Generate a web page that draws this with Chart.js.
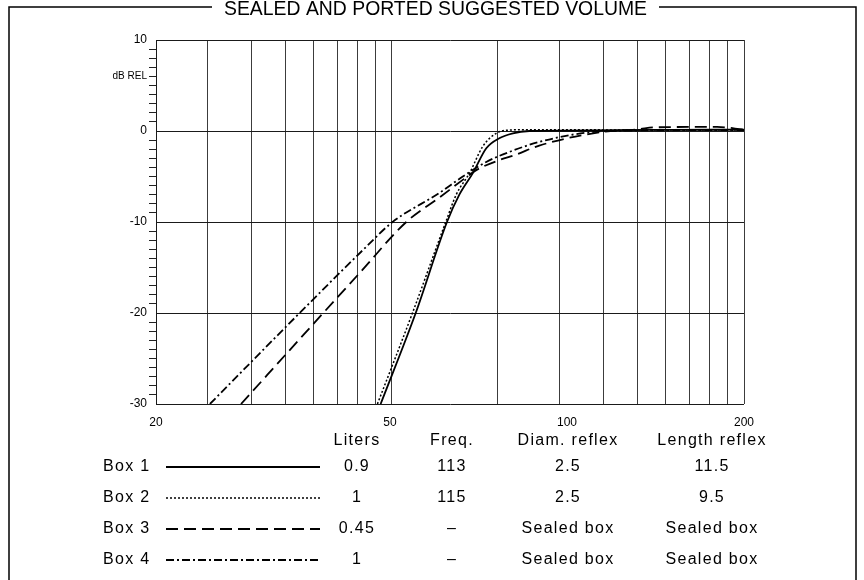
<!DOCTYPE html>
<html>
<head>
<meta charset="utf-8">
<script src="https://cdn.jsdelivr.net/npm/chart.js@4.4.1/dist/chart.umd.min.js"></script>
<style>
	html, body { margin: 0; padding: 0; background: #fff; }
	canvas { display: block; }
</style>
</head>
<body>
<canvas id="chart" width="864" height="580"></canvas>
<script>
// frequency axis labels (Hz) and dB range
const freqTicks = [20, 50, 100, 200];
const dbMin = -30;
const dbMax = 10;
// the printed grid follows its own log paper (3..10, 20..100 decade lines)
const gridTicks = [21.4, 30, 40, 50, 60, 70, 80, 90, 100, 200, 300, 400, 500, 600, 700, 800, 900, 1000];

// response curves (frequency in Hz, level in dB)
const box1Freq = [48.2, 55.3, 62.5, 65.6, 69.2, 72.9, 76.7, 80.9, 86.3, 100, 120, 150, 200];
const box1Db   = [-30, -20, -10, -7.0, -4.6, -1.9, -0.8, -0.25, 0, 0.05, 0.1, 0.12, 0.15];

const box2Freq = [47.6, 54.6, 62.2, 64.8, 68.3, 71.9, 75.8, 79.8, 86.3, 100, 130, 200];
const box2Db   = [-30, -20, -10, -7.0, -4.6, -1.7, -0.25, 0.1, 0.15, 0.15, 0.1, 0.1];

const box3Freq = [27.9, 38.5, 44.4, 53.3, 60.7, 66.4, 70.1, 76.7, 81.9, 89.7, 114.8, 132.7, 140, 180, 200];
const box3Db   = [-30, -20, -15.6, -10, -7.3, -5.4, -4.3, -3.2, -2.6, -1.6, -0.1, 0.2, 0.4, 0.45, 0.15];

const box4Freq = [24.7, 35.1, 45.6, 50.5, 60.7, 66.5, 72.9, 79.8, 89.7, 107.4, 130, 200];
const box4Db   = [-30, -20, -12.7, -10, -6.8, -5.0, -3.4, -2.3, -1.2, -0.2, 0.05, 0.1];

// table under the chart
const title = 'SEALED AND PORTED SUGGESTED VOLUME';
const tableHeaders = ['Liters', 'Freq.', 'Diam. reflex', 'Length reflex'];
const boxNames = ['Box 1', 'Box 2', 'Box 3', 'Box 4'];
const liters = ['0.9', '1', '0.45', '1'];
const tuning = ['113', '115', '\u2013', '\u2013'];
const diamReflex = ['2.5', '2.5', 'Sealed box', 'Sealed box'];
const lengthReflex = ['11.5', '9.5', 'Sealed box', 'Sealed box'];

function toPoints(xs, ys) {
	return xs.map((x, i) => ({ x: x, y: ys[i] }));
}

const lineStyles = [
	{ dash: [], width: 1.8 },
	{ dash: [2, 2], width: 1.5 },
	{ dash: [12, 6], width: 1.8 },
	{ dash: [8, 3, 2, 3], width: 1.8 }
];

const series = [
	toPoints(box1Freq, box1Db),
	toPoints(box2Freq, box2Db),
	toPoints(box3Freq, box3Db),
	toPoints(box4Freq, box4Db)
];

const tablePlugin = {
	id: 'boxTable',
	afterDraw(chart) {
		const c = chart.ctx;
		c.save();

		// title over the frame
		c.font = '20px "Liberation Sans", Arial, sans-serif';
		c.fillStyle = '#000';
		c.textBaseline = 'alphabetic';
		const tw = c.measureText(title).width;
		const targetW = 423;
		const cx = 435.5;
		c.save();
		c.translate(cx - targetW / 2, 15);
		c.scale(targetW / tw, 1);
		c.textAlign = 'left';
		c.fillText(title, 0, 0);
		c.restore();

		// frame
		c.strokeStyle = '#000';
		c.lineWidth = 1.5;
		c.beginPath();
		c.moveTo(9, 580); c.lineTo(9, 7); c.lineTo(cx - targetW / 2 - 12, 7);
		c.moveTo(cx + targetW / 2 + 12, 7); c.lineTo(856, 7); c.lineTo(856, 580);
		c.stroke();

		// table
		const colX = [357, 452, 568, 712];
		const rowY = [467, 498, 529, 560];
		c.font = '16px "Liberation Sans", Arial, sans-serif';
		c.letterSpacing = '1.3px';
		c.textBaseline = 'middle';
		c.textAlign = 'center';
		tableHeaders.forEach((h, i) => c.fillText(h, colX[i], 441));

		boxNames.forEach((name, i) => {
			const y = rowY[i];
			c.textAlign = 'left';
			c.fillText(name, 103, y);
			c.textAlign = 'center';
			c.fillText(liters[i], colX[0], y);
			c.fillText(tuning[i], colX[1], y);
			c.fillText(diamReflex[i], colX[2], y);
			c.fillText(lengthReflex[i], colX[3], y);

			const ds = chart.data.datasets[i];
			c.beginPath();
			c.lineWidth = ds.borderWidth;
			c.setLineDash(ds.borderDash);
			c.moveTo(166, y);
			c.lineTo(320, y);
			c.stroke();
		});
		c.restore();
	}
};

const ctx = document.getElementById('chart').getContext('2d');
new Chart(ctx, {
	type: 'line',
	data: {
		datasets: series.map((pts, i) => ({
			label: boxNames[i],
			data: pts,
			borderColor: '#000',
			borderWidth: lineStyles[i].width,
			borderDash: lineStyles[i].dash,
			pointRadius: 0,
			fill: false,
			cubicInterpolationMode: 'monotone',
			xAxisID: 'x',
			yAxisID: 'y'
		}))
	},
	options: {
		responsive: false,
		animation: false,
		layout: {
			padding: { left: 0, top: 40, right: 120, bottom: 0 }
		},
		plugins: {
			legend: { display: false },
			tooltip: { enabled: false }
		},
		scales: {
			x: {
				type: 'logarithmic',
				position: 'bottom',
				min: freqTicks[0],
				max: freqTicks[freqTicks.length - 1],
				afterBuildTicks: s => { s.ticks = freqTicks.map(v => ({ value: v })); },
				afterFit: s => { s.height = 176; },
				grid: { display: false },
				border: { display: false },
				ticks: {
					autoSkip: false,
					maxRotation: 0,
					padding: 3,
					color: '#000',
					font: { family: '"Liberation Sans", Arial, sans-serif', size: 12 },
					callback: v => String(v)
				}
			},
			xg: {
				type: 'logarithmic',
				position: 'bottom',
				min: gridTicks[0],
				max: gridTicks[gridTicks.length - 1],
				afterBuildTicks: s => { s.ticks = gridTicks.map(v => ({ value: v })); },
				afterFit: s => { s.height = 0; },
				grid: { color: '#3c3c3c', lineWidth: 1, drawTicks: false },
				border: { display: false },
				ticks: { display: false }
			},
			y: {
				min: dbMin,
				max: dbMax,
				afterBuildTicks: s => {
					const t = [];
					for (let v = dbMin; v <= dbMax; v++) t.push({ value: v });
					s.ticks = t;
				},
				afterFit: s => { s.width = 156; },
				grid: {
					color: c => (c.tick && c.tick.value % 10 === 0) ? '#1a1a1a' : 'transparent',
					tickColor: c => (c.tick && c.tick.value % 10 === 0) ? 'transparent' : '#222',
					tickLength: 7,
					lineWidth: 1
				},
				border: { color: '#1a1a1a', width: 1 },
				ticks: {
					autoSkip: false,
					padding: 2,
					color: '#000',
					font: c => ({
						family: '"Liberation Sans", Arial, sans-serif',
						size: (c.tick && c.tick.value === 6) ? 10 : 12
					}),
					callback: v => (v % 10 === 0) ? String(v) : (v === 6 ? 'dB REL' : '')
				}
			}
		}
	},
	plugins: [tablePlugin]
});
</script>
</body>
</html>
